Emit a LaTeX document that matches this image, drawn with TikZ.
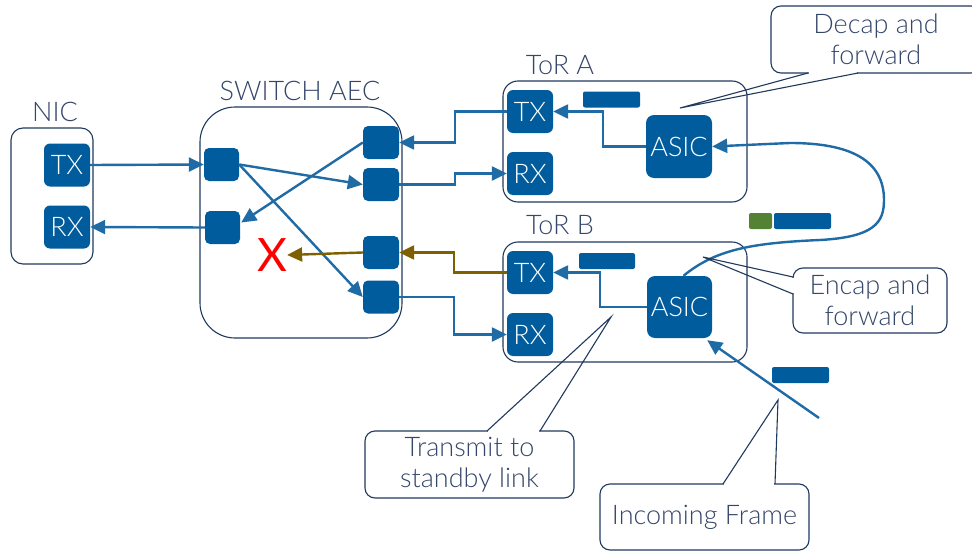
\documentclass[tikz,border=0pt]{standalone}
\usepackage{fontspec}
\setmainfont{Lato}[UprightFont=* Light]
\newfontfamily\markfont{Lato}
\usetikzlibrary{arrows.meta,calc}
\definecolor{boxblue}{HTML}{005C9C}
\definecolor{lineblue}{HTML}{1F6BA5}
\definecolor{framecol}{HTML}{203A5E}
\definecolor{labeltext}{HTML}{34466A}
\definecolor{olive}{HTML}{7F6000}
\definecolor{leaf}{HTML}{548235}
\tikzset{
  txt/.style={font=\fontsize{27}{31}\selectfont},
  container/.style={draw=framecol, line width=1.1pt, fill=none},
  port/.style={fill=boxblue, text=white, txt, inner sep=0pt, rounded corners=6pt,
               minimum width=46pt, minimum height=43pt},
  cell/.style={fill=boxblue, inner sep=0pt, rounded corners=5pt,
               minimum width=36pt, minimum height=33pt},
  asic/.style={fill=boxblue, text=white, txt, inner sep=0pt, rounded corners=8pt,
               minimum width=66pt, minimum height=63pt},
  tag/.style={fill=boxblue, inner sep=0pt, rounded corners=2pt,
              minimum width=57pt, minimum height=16pt},
  title/.style={txt, text=labeltext, inner sep=0pt},
  bubble/.style={draw=framecol, line width=1.1pt, fill=white, rounded corners=10pt,
                 txt, text=labeltext, align=center, inner sep=0pt},
  flow/.style={draw=lineblue, line width=2.4pt, -{Triangle[length=15pt,width=14pt]}},
  badflow/.style={draw=olive, line width=2.4pt, -{Triangle[length=15pt,width=14pt]}},
  pointer/.style={draw=framecol, line width=1.1pt}
}
\begin{document}
\begin{tikzpicture}[x=1pt,y=-1pt]
\clip (0,0) rectangle (972,551);
\fill[white] (0,0) rectangle (972,551);

% ---- NIC ----
\node[title] (niclbl) at (55,112) {NIC};
\node[container, rounded corners=12pt, minimum width=82pt, minimum height=136pt, inner sep=0pt] (nic) at (52,196) {};
\node[port] (nictx) at (67,165) {TX};
\node[port] (nicrx) at (67,227) {RX};

% ---- Switch AEC ----
\node[title] (swlbl) at (300,91) {SWITCH AEC};
\node[container, rounded corners=35pt, minimum width=202pt, minimum height=231pt, inner sep=0pt] (sw) at (301,222.5) {};
\node[cell, minimum width=35pt] (s1) at (221.5,164.5) {};
\node[cell, minimum width=35pt] (s2) at (222.5,227.5) {};
\node[cell] (r1) at (381,142.5) {};
\node[cell] (r2) at (381,184.5) {};
\node[cell] (r3) at (381,252.5) {};
\node[cell] (r4) at (381,297) {};
\node[text=red, font=\markfont\fontsize{46}{50}\selectfont, inner sep=0pt] (xmark) at (272,255) {X};

% ---- ToR A ----
\node[title] (toralbl) at (560,65) {ToR A};
\node[container, rounded corners=15pt, minimum width=244pt, minimum height=121pt, inner sep=0pt] (tora) at (625,141.5) {};
\node[port] (atx) at (530,111.5) {TX};
\node[port] (arx) at (530,173.5) {RX};
\node[asic] (aasic) at (679,146.5) {ASIC};
\node[tag] (atag) at (611.5,99.5) {};

% ---- ToR B ----
\node[title] (torblbl) at (560,225) {ToR B};
\node[container, rounded corners=15pt, minimum width=244pt, minimum height=120pt, inner sep=0pt] (torb) at (625,302) {};
\node[port] (btx) at (530,272.5) {TX};
\node[port] (brx) at (530,334.5) {RX};
\node[asic, minimum width=65pt, minimum height=62pt] (basic) at (679.5,307) {ASIC};
\node[tag, minimum width=56pt] (btag) at (607,261) {};

% frame tags out on the wire
\node[tag, fill=leaf, minimum width=23pt] (encaptag) at (760.5,221) {};
\node[tag] (payloadtag) at (802.5,221) {};
\node[tag] (intag) at (800.5,375) {};

% ---- NIC <-> switch ----
\draw[flow] (nictx.east) -- (s1.west);
\draw[flow] (s2.west) -- (nicrx.east);

% ---- switch crossbar ----
\draw[flow] (s1.east) -- (r2.west);
\draw[flow] (s1.east) -- (r4.west);
\draw[flow] (r1.west) -- ($(s2.east)+(1,-5)$);
\draw[badflow] (r3.west) -- (xmark.east);

% ---- switch <-> ToR A ----
\draw[flow] (atx.west) -- ++(-52,0) |- (r1.east);
\draw[flow] (r2.east) -- ++(56,0) |- (arx.west);
\draw[flow] (aasic.west) -- ++(-43,0) |- (atx.east);

% ---- switch <-> ToR B ----
\draw[badflow] (btx.west) -- ++(-53,0) |- (r3.east);
\draw[flow] (r4.east) -- ++(55,0) |- (brx.west);
\draw[flow] (basic.west) -- ++(-47,0) |- (btx.east);

% ---- tunnel from ToR B to ToR A ----
\draw[flow] ([xshift=4pt]basic.north) .. controls (715,250) and (750,243) .. (820,240)
  .. controls (875,237) and (884,222) .. (884,200)
  .. controls (884,160) and (850,143) .. (790,143) -- (aasic.east);

% ---- incoming frame ----
\coordinate (wire) at (819,418);
\draw[flow] (wire) -- ($(basic.south east)+(-5,2)$);

% ---- callouts ----
\node[bubble, minimum width=210pt, minimum height=67pt] (decap) at (876,39.5) {Decap and\\forward};
\coordinate (d1) at (808,73); \coordinate (d2) at (858,73); \coordinate (dt) at (680,108);
\fill[white] ($(d1)+(1,-1.6)$) rectangle ($(d2)+(-1,1.6)$);
\draw[pointer] (d1) -- (dt) -- (d2);

\node[bubble, minimum width=154pt, minimum height=65pt] (encap) at (870,300.5) {Encap and\\forward};
\coordinate (e1) at (793,277); \coordinate (e2) at (793,294); \coordinate (et) at (703,257);
\fill[white] ($(e1)+(-1.6,1)$) rectangle ($(e2)+(1.6,-1)$);
\draw[pointer] (e1) -- (et) -- (e2);

\node[bubble, minimum width=209pt, minimum height=67pt] (standby) at (469.5,464.5) {Transmit to\\standby link};
\coordinate (t1) at (487,431); \coordinate (t2) at (540,431); \coordinate (tt) at (611,317);
\fill[white] ($(t1)+(1,-1.6)$) rectangle ($(t2)+(-1,1.6)$);
\draw[pointer] (t1) -- (tt) -- (t2);

\node[bubble, minimum width=209pt, minimum height=66pt] (incoming) at (704.5,517) {Incoming Frame};
\coordinate (i1) at (723,484); \coordinate (i2) at (775,484); \coordinate (it) at (778,400);
\fill[white] ($(i1)+(1,-1.6)$) rectangle ($(i2)+(-1,1.6)$);
\draw[pointer] (i1) -- (it) -- (i2);
\end{tikzpicture}
\end{document}
